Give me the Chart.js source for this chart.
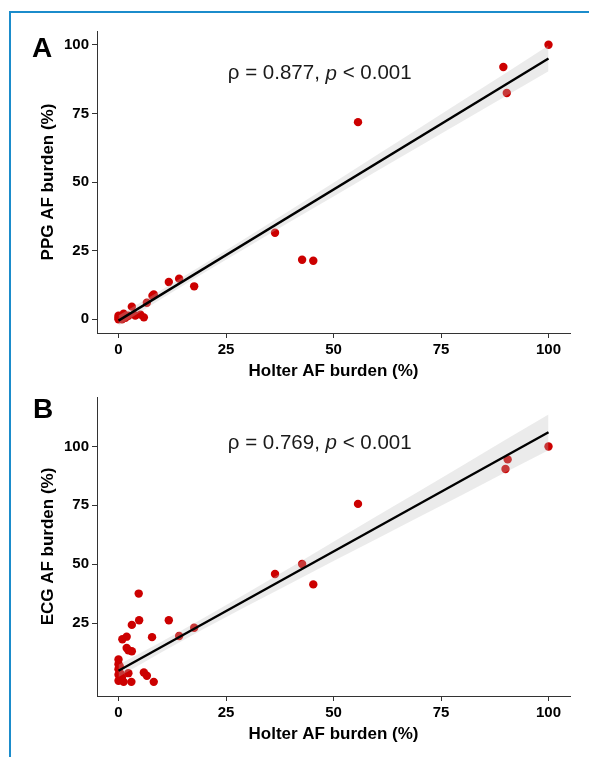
<!DOCTYPE html>
<html>
<head>
<meta charset="utf-8">
<script src="https://cdn.jsdelivr.net/npm/chart.js@4.4.1/dist/chart.umd.min.js"></script>
<style>
  body { margin: 0; background: #fff; width: 589px; height: 757px; overflow: hidden; position: relative; }
  #frame { position: absolute; left: 9px; top: 11px; right: -5px; bottom: -5px;
           border-top: 2px solid #1b8ccb; border-left: 2px solid #1b8ccb; }
  canvas { position: absolute; left: 0; }
</style>
</head>
<body>
<div id="frame"></div>
<canvas id="chartA" width="589" height="385" style="top:0"></canvas>
<canvas id="chartB" width="589" height="372" style="top:385px"></canvas>
<script>
// panel A: Holter vs PPG
var holterA = [100, 89.5, 90.3, 55.7, 36.4, 42.7, 45.3, 17.6, 14.1, 11.7, 8.2, 7.9, 6.6, 3.1, 5.1, 5.9, 3.9, 2.3, 1.6, 1.2, 0.8, 0, 0, 0, 0.4];
var ppgA    = [100, 91.9, 82.4, 71.8, 31.5, 21.7, 21.3, 12, 14.8, 13.6, 9, 8.6, 6, 4.6, 1.7, 0.7, 1.4, 1.3, 0.5, 2, 0, 1.3, 0, 0.6, 0.2];
var fitXA = [0, 100];
var fitYA = [-0.5, 95];
var bandX = [0, 10, 20, 30, 40, 50, 60, 70, 80, 90, 100];
var bandUpA = [1.4, 10.65, 20.2, 29.95, 39.8, 49.75, 59.7, 69.65, 79.7, 89.65, 99.7];
var bandLoA = [-2.4, 7.45, 17.0, 26.35, 35.6, 44.75, 53.9, 63.05, 72.1, 81.25, 90.3];

// panel B: Holter vs ECG
var holterB = [100, 90.5, 90, 55.7, 36.4, 42.7, 45.3, 11.7, 14.1, 17.6, 4.7, 4.8, 3.1, 0.9, 1.9, 7.8, 1.9, 2.3, 3.1, 0, 0, 0, 0.5, 2.3, 5.9, 6.6, 8.2, 0, 1.2, 3, 0.8, 0, 0.3];
var ecgB    = [100, 94.5, 90.4, 75.6, 45.8, 50.1, 41.4, 26.2, 19.5, 23, 37.5, 26.2, 24.2, 18.1, 19.2, 19, 14.4, 13.4, 13, 9.5, 7.5, 5.4, 3.5, 3.7, 4, 2.6, 0, 0.5, 0, 0, 1.8, 3, 6.5];
var fitXB = [0, 100];
var fitYB = [4.7, 106];
var bandUpB = [7.3, 17.0, 27.3, 37.9, 48.6, 59.5, 70.3, 81.1, 91.9, 102.8, 113.6];
var bandLoB = [2.1, 12.6, 22.7, 32.3, 41.8, 51.3, 60.7, 70.1, 79.5, 89.0, 98.4];

var xTicks = [0, 25, 50, 75, 100];
var yTicksA = [0, 25, 50, 75, 100];
var yTicksB = [25, 50, 75, 100];

var FONT = '"Liberation Sans", Arial, sans-serif';
var RED = '#cc0000';

function pts(xs, ys) { return xs.map(function (x, i) { return { x: x, y: ys[i] }; }); }

// stats text + panel letter
var textPlugin = {
    id: 'texts',
    afterDraw: function (chart, args, opts) {
        var ctx = chart.ctx;
        ctx.save();
        ctx.fillStyle = '#000';
        ctx.textBaseline = 'alphabetic';
        ctx.font = 'bold 28px ' + FONT;
        ctx.fillText(opts.panel, opts.panelPos[0], opts.panelPos[1]);

        var parts = [[opts.text[0], ''], ['p', 'italic '], [opts.text[1], '']];
        var total = 0;
        parts.forEach(function (p) { ctx.font = p[1] + '20.5px ' + FONT; total += ctx.measureText(p[0]).width; });
        var x = chart.scales.x.getPixelForValue(opts.at[0]) - total / 2;
        var y = chart.scales.y.getPixelForValue(opts.at[1]);
        ctx.textBaseline = 'middle';
        ctx.fillStyle = '#1a1a1a';
        parts.forEach(function (p) {
            ctx.font = p[1] + '20.5px ' + FONT;
            ctx.fillText(p[0], x, y);
            x += ctx.measureText(p[0]).width;
        });
        ctx.restore();
    }
};

function makeChart(id, o) {
    return new Chart(document.getElementById(id), {
        data: {
            datasets: [
                { type: 'line', data: pts(o.fitX, o.fitY), borderColor: '#000', borderWidth: 2.4, pointRadius: 0, fill: false },
                { type: 'line', data: pts(bandX, o.bandUp), borderWidth: 0, pointRadius: 0, fill: '+1', backgroundColor: 'rgba(190,190,190,0.3)' },
                { type: 'line', data: pts(bandX, o.bandLo), borderWidth: 0, pointRadius: 0, fill: false },
                { type: 'scatter', data: pts(o.xs, o.ys), backgroundColor: RED, borderColor: RED, borderWidth: 0, pointRadius: 4.2 }
            ]
        },
        options: {
            responsive: false,
            animation: false,
            layout: { padding: o.pad },
            plugins: {
                legend: { display: false },
                tooltip: { enabled: false },
                texts: { panel: o.panel, panelPos: o.panelPos, text: o.text, at: o.at }
            },
            scales: {
                x: {
                    type: 'linear', min: -5, max: 105,
                    afterBuildTicks: function (s) { s.ticks = xTicks.map(function (v) { return { value: v }; }); },
                    afterFit: function (s) { s.height = 50; },
                    grid: { drawOnChartArea: false, drawTicks: true, tickLength: 5, tickColor: '#333' },
                    border: { display: true, color: '#333', width: 1 },
                    ticks: { color: '#000', padding: 3, font: { family: FONT, size: 15, weight: 'bold' } },
                    title: { display: true, text: 'Holter AF burden (%)', color: '#000', padding: { top: 0, bottom: 1 },
                             font: { family: FONT, size: 17, weight: 'bold' } }
                },
                y: {
                    type: 'linear', min: o.yMin, max: o.yMax,
                    afterBuildTicks: function (s) { s.ticks = o.yTicks.map(function (v) { return { value: v }; }); },
                    afterFit: function (s) { s.width = 59; },
                    grid: { drawOnChartArea: false, drawTicks: true, tickLength: 5, tickColor: '#333' },
                    border: { display: true, color: '#333', width: 1 },
                    ticks: { color: '#000', padding: 3, font: { family: FONT, size: 15, weight: 'bold' } },
                    title: { display: true, text: o.yTitle, color: '#000', padding: { top: 0, bottom: 0 },
                             font: { family: FONT, size: 17, weight: 'bold' } }
                }
            }
        },
        plugins: [textPlugin]
    });
}

makeChart('chartA', {
    xs: holterA, ys: ppgA, fitX: fitXA, fitY: fitYA, bandUp: bandUpA, bandLo: bandLoA,
    yMin: -5, yMax: 105, yTicks: yTicksA, yTitle: 'PPG AF burden (%)',
    pad: { left: 38, top: 31, right: 19, bottom: 2 },
    panel: 'A', panelPos: [32, 57],
    text: ['\u03c1 = 0.877, ', ' < 0.001'], at: [46.8, 89.4]
});

makeChart('chartB', {
    xs: holterB, ys: ecgB, fitX: fitXB, fitY: fitYB, bandUp: bandUpB, bandLo: bandLoB,
    yMin: -6, yMax: 121, yTicks: yTicksB, yTitle: 'ECG AF burden (%)',
    pad: { left: 38, top: 8, right: 19, bottom: 11 },
    panel: 'B', panelPos: [33, 33],
    text: ['\u03c1 = 0.769, ', ' < 0.001'], at: [46.8, 101.4]
});
</script>
</body>
</html>
